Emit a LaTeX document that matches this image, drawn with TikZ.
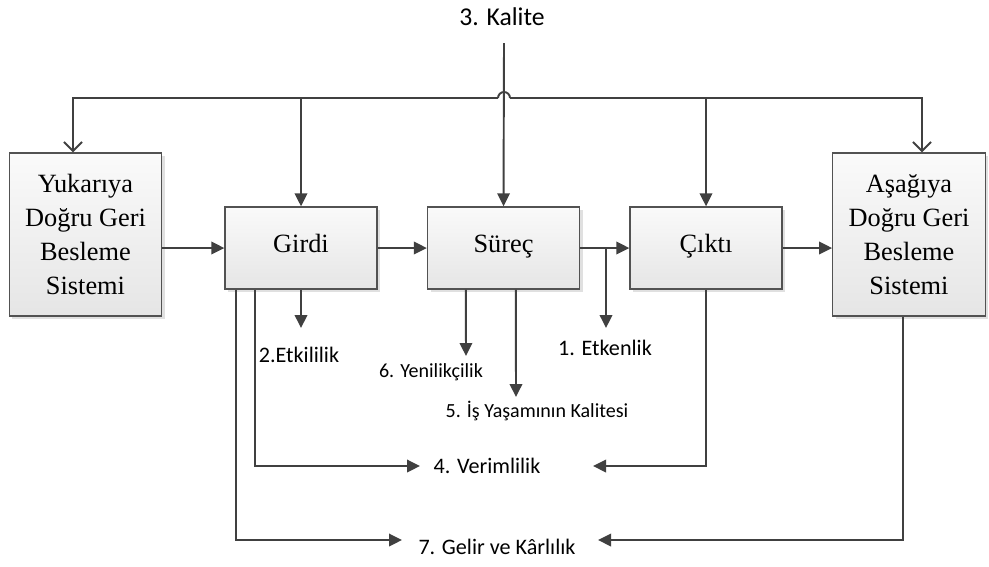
\documentclass[tikz,border=0pt]{standalone}
\usepackage{fontspec}
\setmainfont{Liberation Serif}
\newfontfamily\labfont{Carlito}
\usetikzlibrary{arrows.meta,shadows,calc}

\begin{document}
\begin{tikzpicture}[x=0.02cm,y=-0.02cm,
  box/.style={rectangle,draw=black!68,line width=0.8pt,top color=black!2,bottom color=black!10,
    drop shadow={shadow xshift=1.8pt,shadow yshift=-1.8pt,fill=black!12,opacity=1},
    align=center,inner sep=0pt,font=\fontsize{15}{19.3}\selectfont},
  midbox/.style={box,minimum width=3.04cm,minimum height=1.64cm,text height=0.7em,text depth=0.22em},
  sidebox/.style={box,minimum width=3.05cm,minimum height=3.26cm},
  lab/.style={font=\labfont\fontsize{12.6}{15}\selectfont},
  smalllab/.style={font=\labfont\fontsize{11.4}{14}\selectfont},
  conn/.style={draw=black!75,line width=1.1pt},
  arr/.style={conn,-{Triangle[length=0.26cm,width=0.25cm]}},
  openarr/.style={conn,-{Straight Barb[length=0.18cm,width=0.36cm]}}]

\useasboundingbox (0,0) rectangle (989,566);

\node[lab,font=\labfont\fontsize{14.6}{17}\selectfont] (kal) at (502,17)            {3. Kalite};

\node[sidebox] (yuk) at (85.5,234.5)            {Yukarıya\\Doğru Geri\\Besleme\\Sistemi};
\node[midbox] (gir) at (301,248)            {Girdi};
\node[midbox] (sur) at (503.5,248)            {Süreç};
\node[midbox] (cik) at (706,248)            {Çıktı};
\node[sidebox] (asg) at (909,234.5)            {Aşağıya\\Doğru Geri\\Besleme\\Sistemi};

\node[lab] (etkl) at (299,355)            {2.Etkililik};
\node[smalllab] (yen) at (431,372)            {6. Yenilikçilik};
\node[smalllab] (isy) at (537,411)            {5. İş Yaşamının Kalitesi};
\node[lab] (etkn) at (605,348)            {1. Etkenlik};
\node[lab] (ver) at (487,466)            {4. Verimlilik};
\node[lab] (gel) at (497,547)            {7. Gelir ve Kârlılık};

\coordinate (top) at (504,43);
\coordinate (busL) at (73,98);
\coordinate (busR) at (922,98);
\coordinate (hopL) at (498,98);
\coordinate (hopR) at (510,98);

\draw[arr] (top) -- (sur.north);
\draw[conn] (hopL) arc[start angle=180,end angle=360,radius=6];
\draw[openarr] (hopL) -- (busL) -- (busL |- yuk.north);
\draw[openarr] (hopR) -- (busR) -- (busR |- asg.north);
\draw[arr] (busL -| gir.north) -- (gir.north);
\draw[arr] (busL -| cik.north) -- (cik.north);

\draw[arr] (gir.west -| yuk.east) -- (gir.west);
\draw[arr] (gir) -- (sur);
\draw[arr] (sur) -- (cik);
\draw[arr] (cik.east) -- (cik.east -| asg.west);

\coordinate (jn) at (606,248);
\coordinate (etknT) at (606,328);
\draw[arr] (jn) -- (etknT);

\coordinate (etklT) at (301,328);
\draw[arr] (gir.south) -- (etklT);

\coordinate (s1) at ($(sur.south west)+(39,0)$);
\coordinate (s2) at ($(sur.south west)+(89,0)$);
\coordinate (yenT) at (466,356);
\coordinate (isyT) at (516,397);
\draw[arr] (s1) -- (yenT);
\draw[arr] (s2) -- (isyT);

\coordinate (g1) at ($(gir.south west)+(12,0)$);
\coordinate (g2) at ($(gir.south west)+(31,0)$);
\coordinate (verL) at (420,466);
\coordinate (verR) at (593,466);
\coordinate (gelL) at (402,540);
\coordinate (gelR) at (598,540);
\coordinate (a1) at ($(asg.south)+(-6,0)$);

\draw[arr] (g2) |- (verL);
\draw[arr] (cik.south) |- (verR);
\draw[arr] (g1) |- (gelL);
\draw[arr] (a1) |- (gelR);

\end{tikzpicture}
\end{document}
